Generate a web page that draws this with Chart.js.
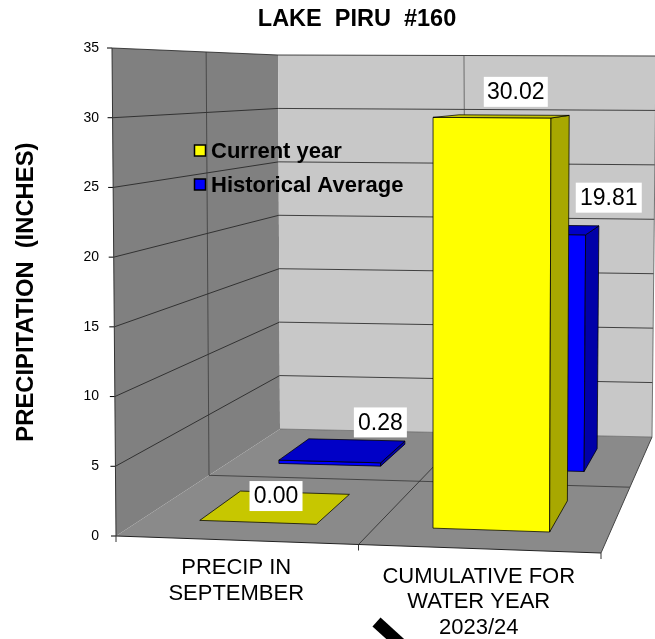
<!DOCTYPE html>
<html>
<head>
<meta charset="utf-8">
<title>LAKE PIRU #160</title>
<script src="https://cdn.jsdelivr.net/npm/chart.js@4"></script>
<style>
    html, body { margin: 0; padding: 0; background: #fff; overflow: hidden; }
    canvas { display: block; }
</style>
</head>
<body>
<canvas id="myChart" width="655" height="639"></canvas>
<script>
const categories = [['PRECIP IN', 'SEPTEMBER'], ['CUMULATIVE FOR', 'WATER YEAR', '2023/24']];
const currentYear = [0.00, 30.02];
const historicalAverage = [0.28, 19.81];
const yMin = 0;
const yMax = 35;
const yStep = 5;

const FONT = '"Liberation Sans", Arial, sans-serif';

// corners of the 3d box on the page: [across, depth, height]
const corners = {
    '000': [116, 536], '001': [112, 48],
    '010': [280, 429], '011': [278, 55],
    '100': [601, 553], '101': [603, 48],
    '110': [652, 437], '111': [656, 56]
};
const seriesDepth = [[0.13, 0.37], [0.63, 0.86]];
const barShift = -0.003;
const labelOffset = [[[-2.5, -11], [11, -24.5]], [[35.5, -28], [65, -32]]];
const labelBox = [[53, 64], [53, 66]];

function project(u, v, value) {
    let w = (value - yMin) / (yMax - yMin);
    let d = 1.31 * v / (1 + 0.31 * v);
    let out = [0, 0];
    for (let a = 0; a < 2; a++) for (let b = 0; b < 2; b++) for (let c = 0; c < 2; c++) {
        let k = (a ? u : 1 - u) * (b ? d : 1 - d) * (c ? w : 1 - w);
        let p = corners['' + a + b + c];
        out[0] += k * p[0];
        out[1] += k * p[1];
    }
    return out;
}

function poly(ctx, pts, fill, stroke, lw) {
    ctx.beginPath();
    pts.forEach((p, i) => i ? ctx.lineTo(p[0], p[1]) : ctx.moveTo(p[0], p[1]));
    ctx.closePath();
    if (fill) { ctx.fillStyle = fill; ctx.fill(); }
    if (stroke) { ctx.strokeStyle = stroke; ctx.lineWidth = lw || 1; ctx.stroke(); }
}

function line(ctx, a, b, color, lw) {
    ctx.beginPath();
    ctx.moveTo(a[0], a[1]);
    ctx.lineTo(b[0], b[1]);
    ctx.strokeStyle = color;
    ctx.lineWidth = lw || 1;
    ctx.stroke();
}

const shade = (rgb, k) => `rgb(${rgb.map(c => Math.round(c * k)).join(',')})`;

function drawBar(ctx, u0, u1, v0, v1, value, rgb) {
    let edge = 'rgba(0,0,0,0.75)';
    if (value > 0) {
        poly(ctx, [project(u0, v0, 0), project(u1, v0, 0), project(u1, v0, value), project(u0, v0, value)], shade(rgb, 1), edge);
        poly(ctx, [project(u1, v0, 0), project(u1, v1, 0), project(u1, v1, value), project(u1, v0, value)], shade(rgb, 0.66), edge);
    }
    poly(ctx, [project(u0, v0, value), project(u1, v0, value), project(u1, v1, value), project(u0, v1, value)], shade(rgb, 0.78), edge);
}

function drawWalls(chart) {
    let ctx = chart.ctx;
    let y = chart.scales.y;
    poly(ctx, [project(0, 0, 0), project(0, 1, 0), project(0, 1, yMax), project(0, 0, yMax)], '#808080');
    poly(ctx, [project(0, 1, 0), project(1, 1, 0), project(1, 1, yMax), project(0, 1, yMax)], '#c8c8c8');
    poly(ctx, [project(0, 0, 0), project(1, 0, 0), project(1, 1, 0), project(0, 1, 0)], '#8a8a8a');

    let grid = 'rgba(30,30,30,0.8)';
    y.ticks.forEach(t => {
        let a = project(0, 0, t.value), b = project(0, 1, t.value), c = project(1, 1, t.value);
        if (t.value > yMin) {
            line(ctx, a, b, grid);
            line(ctx, b, c, grid);
        }
        line(ctx, [a[0] - 5, a[1]], a, '#000');
    });
    line(ctx, project(0, 0.5, 0), project(0, 0.5, yMax), 'rgba(50,50,50,0.7)');
    line(ctx, project(0.5, 1, 0), project(0.492, 1, yMax), 'rgba(70,70,70,0.7)');
    line(ctx, project(0, 0.5, 0), project(1, 0.5, 0), 'rgba(40,40,40,0.7)');
    line(ctx, project(0.5, 0, 0), project(0.5, 1, 0), 'rgba(40,40,40,0.8)');
    line(ctx, project(0, 1, 0), project(1, 1, 0), 'rgba(90,90,90,0.6)');
    line(ctx, project(1, 1, 0), project(1, 1, yMax), 'rgba(90,90,90,0.8)');
    line(ctx, project(0, 0, 0), project(0, 0, yMax), '#333');
    line(ctx, project(0, 0, 0), project(1, 0, 0), '#222');
    line(ctx, project(1, 0, 0), project(1, 1, 0), '#444');
    [0, 0.5, 1].forEach(u => {
        let p = project(u, 0, 0);
        line(ctx, p, [p[0], p[1] + 6], '#333');
    });
}

const scene3d = {
    id: 'scene3d',
    // the titles are spaced out wide in the original
    beforeDraw(chart) {
        chart.ctx.wordSpacing = '6.5px';
    },
    beforeDatasetsDraw(chart) {
        let ctx = chart.ctx;
        let area = chart.chartArea;
        let y = chart.scales.y;
        ctx.wordSpacing = '0px';
        ctx.save();
        drawWalls(chart);

        // back series first so the front one covers it
        [1, 0].forEach(ds => {
            let set = chart.data.datasets[ds];
            chart.getDatasetMeta(ds).data.forEach((el) => {
                let u0 = (el.x - el.width / 2 - area.left) / area.width + barShift;
                let u1 = (el.x + el.width / 2 - area.left) / area.width + barShift;
                drawBar(ctx, u0, u1, seriesDepth[ds][0], seriesDepth[ds][1], y.getValueForPixel(el.y), set.rgb);
            });
        });

        // value labels
        ctx.font = '23px ' + FONT;
        ctx.textAlign = 'center';
        ctx.textBaseline = 'middle';
        [1, 0].forEach(ds => {
            let set = chart.data.datasets[ds];
            chart.getDatasetMeta(ds).data.forEach((el, i) => {
                let u = (el.x - area.left) / area.width;
                let v = (seriesDepth[ds][0] + seriesDepth[ds][1]) / 2;
                let p = project(u, v, y.getValueForPixel(el.y));
                let cx = p[0] + labelOffset[ds][i][0];
                let cy = p[1] + labelOffset[ds][i][1];
                ctx.fillStyle = '#fff';
                ctx.fillRect(cx - labelBox[ds][i] / 2, cy - 15, labelBox[ds][i], 30);
                ctx.fillStyle = '#000';
                ctx.fillText(set.data[i].toFixed(2), cx, cy + 1);
            });
        });

        // legend, sits on the left wall
        let legendY = [151, 185];
        ctx.font = 'bold 22px ' + FONT;
        ctx.textAlign = 'left';
        chart.data.datasets.forEach((set, i) => {
            ctx.fillStyle = set.backgroundColor;
            ctx.strokeStyle = '#000';
            ctx.lineWidth = 1.5;
            ctx.fillRect(194.5, legendY[i] - 6, 11, 11);
            ctx.strokeRect(194.5, legendY[i] - 6, 11, 11);
            ctx.fillStyle = '#000';
            ctx.fillText(set.label, 211, legendY[i] + 1);
        });

        // category labels under the floor
        ctx.font = '22px ' + FONT;
        ctx.textAlign = 'center';
        chart.data.labels.forEach((lines, i) => {
            let p = project((chart.scales.x.getPixelForValue(i) - area.left) / area.width, 0, 0);
            lines.forEach((txt, n) => ctx.fillText(txt, p[0] - 1, p[1] + 28 + n * 25.5));
        });

        // stray arrow stroke at the bottom edge of the picture
        line(ctx, [376.5, 622], [404, 647], '#000', 12);
        ctx.restore();
        return false;
    }
};

let ctx = document.getElementById('myChart').getContext('2d');
let myChart = new Chart(ctx, {
    type: 'bar',
    data: {
        labels: categories,
        datasets: [
            { label: 'Current year', data: currentYear, backgroundColor: '#ffff00', rgb: [255, 255, 0] },
            { label: 'Historical Average', data: historicalAverage, backgroundColor: '#0000ff', rgb: [0, 0, 255] }
        ]
    },
    options: {
        responsive: false,
        animation: false,
        layout: { padding: { left: 12, right: 55, top: 0, bottom: 103 } },
        datasets: { bar: { grouped: false, categoryPercentage: 0.5, barPercentage: 1 } },
        plugins: {
            legend: { display: false },
            tooltip: { enabled: false },
            title: {
                display: true,
                text: 'LAKE PIRU #160',
                fullSize: false,
                color: '#000',
                font: { family: FONT, size: 23.5, weight: 'bold', lineHeight: 1.2 },
                padding: { top: 5, bottom: 15 }
            }
        },
        scales: {
            x: { display: false },
            y: {
                min: yMin,
                max: yMax,
                afterFit: (scale) => { scale.width = 102; },
                grid: { display: false },
                border: { display: false },
                ticks: { stepSize: yStep, color: '#000', padding: 7, font: { family: FONT, size: 14 } },
                title: {
                    display: true,
                    text: 'PRECIPITATION (INCHES)',
                    color: '#000',
                    font: { family: FONT, size: 23.8, weight: 'bold' },
                    padding: 0
                }
            }
        }
    },
    plugins: [scene3d]
});
</script>
</body>
</html>
